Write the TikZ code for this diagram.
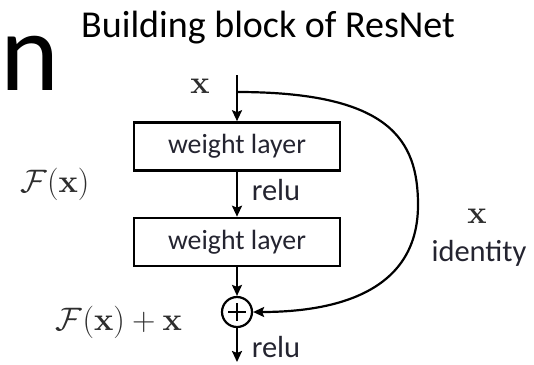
\RequirePackage{fix-cm}
\documentclass[tikz,border=0pt]{standalone}
\usepackage[no-math]{fontspec}
\setmainfont{Carlito}
\usetikzlibrary{arrows.meta}
\definecolor{txt}{RGB}{36,36,48}
\definecolor{mtxt}{RGB}{45,45,45}
\begin{document}
\begin{tikzpicture}[x=1pt,y=-1pt,
  box/.style={draw, line width=2.6pt, minimum width=206pt, minimum height=48pt, inner sep=0pt, font=\fontsize{27.8}{30}\selectfont, text=txt},
  arr/.style={line width=2.2pt, -{Stealth[length=11pt,width=10pt,inset=2pt]}},
  lab/.style={font=\fontsize{30.5}{33}\selectfont, text=txt, inner sep=0pt, anchor=base},
  mathlab/.style={font=\fontsize{32.5}{35}\selectfont, text=mtxt, inner sep=0pt, anchor=base},
  sumnode/.style={circle, draw, line width=2.2pt, minimum size=30pt, inner sep=0pt}]
\useasboundingbox (0,0) rectangle (534,364);
\node[anchor=base west, inner sep=0pt, font=\fontsize{112}{120}\selectfont] (n) at (0,90) {n};
\node[anchor=base west, inner sep=0pt, font=\fontsize{38}{40}\selectfont] (title) at (81,37) {Building block of ResNet};
\coordinate (top) at (237,75);
\coordinate (br) at (237,92);
\coordinate (rt) at (418,205);
\coordinate (out) at (237,362);
\node[box] (w1) at (237,146.5) {weight layer};
\node[box] (w2) at (237,242) {weight layer};
\node[sumnode] (plus) at (237,312) {};
\draw[line width=2.2pt] (plus.center) ++(-9,0) -- ++(18,0);
\draw[line width=2.2pt] (plus.center) ++(0,-9) -- ++(0,18);
\draw[line width=2.2pt] (top) -- (br);
\draw[arr] (br) -- (w1);
\draw[arr] (w1) -- (w2);
\draw[arr] (w2) -- (plus);
\draw[arr] (plus) -- (out);
\draw[arr] (br) .. controls (390,92) and (418,140) .. (rt) .. controls (418,295) and (330,312) .. (plus.east);
\node[mathlab] (xin) at (200,93) {$\mathbf{x}$};
\node[mathlab] (fx) at (55,192) {$\mathcal{F}(\mathbf{x})$};
\node[mathlab] (fxx) at (119,330) {$\mathcal{F}(\mathbf{x})+\mathbf{x}$};
\node[lab] (r1) at (276,200) {relu};
\node[lab] (r2) at (276,357) {relu};
\node[mathlab] (xid) at (477,223) {$\mathbf{x}$};
\node[lab] (id) at (479,261) {identity};
\end{tikzpicture}
\end{document}
